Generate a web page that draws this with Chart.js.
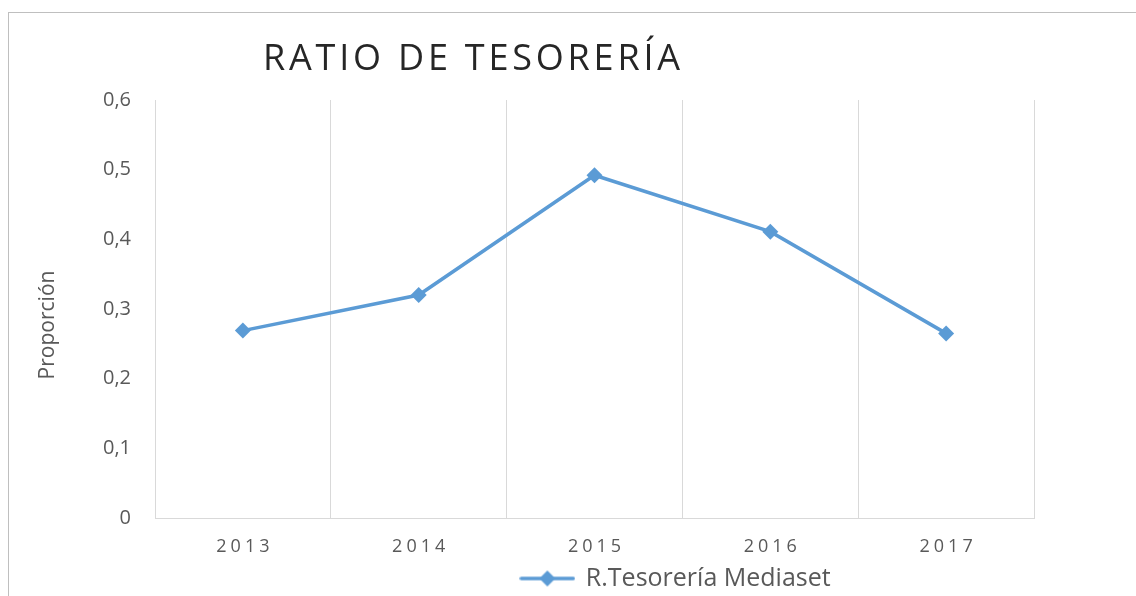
<!DOCTYPE html>
<html>
<head>
<meta charset="utf-8">
<script src="https://cdn.jsdelivr.net/npm/chart.js@4"></script>
<style>
html, body { margin: 0; padding: 0; background: #fff; overflow: hidden; }
#box { position: absolute; left: 8px; top: 12px; width: 1335px; height: 589px;
       border-top: 1px solid #bfbfbf; border-left: 1px solid #bfbfbf; }
#myChart { display: block; }
</style>
</head>
<body>
<div id="box"><canvas id="myChart" width="1334" height="588"></canvas></div>
<script>
var chartTitle = 'RATIO DE TESORERÍA';
var years = ['2013', '2014', '2015', '2016', '2017'];
var ratioMediaset = [0.269, 0.32, 0.492, 0.411, 0.265];
var seriesName = 'R.Tesorería Mediaset';
var yAxisTitle = 'Proporción';

var blue = '#5b9bd5';
var grey = '#595959';

// legend marker: line with a diamond in the middle
var marker = document.createElement('canvas');
marker.width = 56;
marker.height = 18;
var m = marker.getContext('2d');
m.strokeStyle = blue;
m.lineWidth = 3.5;
m.lineCap = 'round';
m.beginPath(); m.moveTo(2, 9); m.lineTo(54, 9); m.stroke();
m.fillStyle = blue;
m.beginPath(); m.moveTo(28, 1); m.lineTo(36, 9); m.lineTo(28, 17); m.lineTo(20, 9); m.closePath(); m.fill();

// title, axis title and x labels drawn by hand (letter spacing, position)
var spacedText = {
    id: 'spacedText',
    afterDraw: function(chart) {
        var c = chart.ctx;
        var area = chart.chartArea;
        c.save();
        c.font = '36px "Open Sans"';
        c.letterSpacing = '0px';
        var w0 = c.measureText(chartTitle).width;
        var sp = (417 - w0) / (chartTitle.length - 1);
        c.letterSpacing = sp + 'px';
        c.fillStyle = '#262626';
        c.textAlign = 'left';
        c.textBaseline = 'alphabetic';
        c.fillText(chartTitle, 254, 57);

        var xs = chart.scales.x;
        c.font = '18px "Open Sans"';
        c.letterSpacing = '4px';
        c.fillStyle = grey;
        c.textAlign = 'center';
        years.forEach(function(y, i) {
            c.fillText(y, xs.getPixelForTick(i) + 2, xs.top + 34);
        });

        c.letterSpacing = '0px';
        c.font = '21px "Open Sans"';
        c.textBaseline = 'middle';
        c.translate(39, (area.top + area.bottom) / 2 + 16);
        c.rotate(-Math.PI / 2);
        c.fillText(yAxisTitle, 0, 0);
        c.restore();
    }
};

var ctx = document.getElementById('myChart').getContext('2d');
var myChart = new Chart(ctx, {
    type: 'line',
    data: {
        labels: years,
        datasets: [{
            label: seriesName,
            data: ratioMediaset,
            borderColor: blue,
            backgroundColor: blue,
            borderWidth: 3.5,
            pointStyle: 'rectRot',
            pointRadius: 8,
            pointBorderWidth: 0,
            tension: 0
        }]
    },
    options: {
        responsive: false,
        animation: false,
        layout: { padding: { top: 87, right: 0, left: 0, bottom: 0 } },
        plugins: {
            title: { display: false },
            tooltip: { enabled: false },
            legend: {
                position: 'bottom',
                labels: {
                    usePointStyle: true,
                    pointStyle: marker,
                    pointStyleWidth: 52,
                    boxHeight: 18,
                    padding: 0,
                    color: grey,
                    font: { family: '"Open Sans"', size: 25 }
                }
            }
        },
        scales: {
            x: {
                offset: true,
                afterFit: function(scale) { scale.height = 48; },
                grid: { offset: true, color: '#d9d9d9', lineWidth: 1, drawTicks: false },
                border: { color: '#d9d9d9' },
                ticks: { color: 'rgba(0,0,0,0)', padding: 19, font: { family: '"Open Sans"', size: 18 } }
            },
            y: {
                min: 0,
                max: 0.6,
                afterFit: function(scale) { scale.width = 146; },
                grid: { display: false, drawTicks: false },
                border: { display: false },
                ticks: {
                    stepSize: 0.1,
                    padding: 24,
                    color: grey,
                    font: { family: '"Open Sans"', size: 20 },
                    callback: function(v) { return (Math.round(v * 10) / 10).toString().replace('.', ','); }
                }
            },
            // empty space on the right, the chart box runs past the window
            side: {
                position: 'right',
                afterFit: function(scale) { scale.width = 309; },
                grid: { display: false, drawTicks: false },
                border: { display: false },
                ticks: { display: false }
            }
        }
    },
    plugins: [spacedText]
});
</script>
</body>
</html>
